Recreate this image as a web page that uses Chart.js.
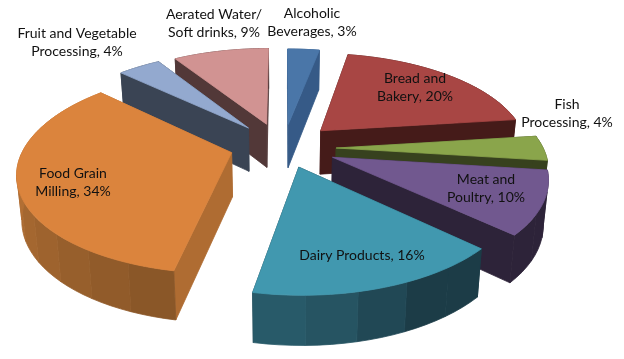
<!DOCTYPE html>
<html>
<head>
<meta charset="utf-8">
<title>Food processing share</title>
<script src="https://cdn.jsdelivr.net/npm/chart.js@4/dist/chart.umd.min.js"></script>
<style>
    html, body { margin: 0; padding: 0; background: #fff; }
    canvas { display: block; }
</style>
</head>
<body>
<canvas id="pieChart" width="624" height="359"></canvas>
<script>
// Chart data, clockwise from 12 o'clock
const categories = ['Alcoholic Beverages', 'Bread and Bakery', 'Fish Processing', 'Meat and Poultry',
    'Dairy Products', 'Food Grain Milling', 'Fruit and Vegetable Processing', 'Aerated Water/ Soft drinks'];
const shares = [3, 20, 4, 10, 16, 34, 4, 9];

// First line of each two-line label ('' = single line)
const labelFirstLines = ['Alcoholic', 'Bread and', 'Fish', 'Meat and', '', 'Food Grain', 'Fruit and Vegetable', 'Aerated Water/'];

// Styling
const topColors = ['#4a76a8', '#a84644', '#8aa54b', '#71588f', '#4198af', '#db843d', '#93a9cf', '#d19392'];
const cutColors = ['#365a87', '#451b19', '#37411e', '#2d2339', '#1c3c47', '#af6c32', '#3a4454', '#523838'];
const wallFrom = ['#365a87', '#451b19', '#37411e', '#2d2339', '#1c3c47', '#8a5728', '#3a4454', '#523838'];
const wallTo = ['#365a87', '#451b19', '#37411e', '#2d2339', '#285a69', '#bd7638', '#3a4454', '#523838'];
const wallHold = [0, 0, 0, 0, 0.2, 0, 0, 0];
const explodeOffsets = [36, 36, 36, 36, 36, 36, 36, 36];
const sliceNudges = [[0, -3], [4, -3], [6, 0], [6, 0], [0, -2], [-8, -2], [-7, -4], [-5, -4]];
const paintOrder = [0, 7, 6, 5, 1, 2, 3, 4];
const labelSpots = [[312, 22], [415, 87], [567, 113], [486, 188], [362, 255], [73, 182], [77, 42], [214, 23]];

// Projection of the pie plane onto the page
const view = { cx: 284, cy: 148, radius: 207, tilt: 96, distance: 5.5, depth: 44, baseShrink: 0.98 };

function project(u, v, nudge, down) {
    const s = view.distance / (view.distance - v);
    const x = u * view.radius * s * (down ? view.baseShrink : 1);
    return {
        x: view.cx + x + nudge[0],
        y: view.cy + v * view.tilt * s + nudge[1] + (down ? view.depth * (1 + (s - 1) * 0.5) : 0)
    };
}

function hexToRgb(hex) {
    return [1, 3, 5].map(i => parseInt(hex.substr(i, 2), 16));
}

function mixColor(a, b, t) {
    const ca = hexToRgb(a), cb = hexToRgb(b);
    return 'rgb(' + ca.map((c, i) => Math.round(c + (cb[i] - c) * t)).join(',') + ')';
}

function fillPoly(ctx, points, color) {
    ctx.beginPath();
    points.forEach((p, i) => i ? ctx.lineTo(p.x, p.y) : ctx.moveTo(p.x, p.y));
    ctx.closePath();
    ctx.fillStyle = color;
    ctx.strokeStyle = color;
    ctx.lineWidth = 0.8;
    ctx.lineJoin = 'round';
    ctx.fill();
    ctx.stroke();
}

function drawSlice(ctx, arc, i) {
    const mid = (arc.startAngle + arc.endAngle) / 2;
    const off = arc.options.offset / arc.outerRadius;
    const ox = Math.cos(mid) * off, oy = Math.sin(mid) * off;
    const nudge = sliceNudges[i];
    const rim = (a, down) => project(Math.cos(a) + ox, Math.sin(a) + oy, nudge, down);
    const tip = down => project(ox, oy, nudge, down);

    // Cut faces and outer wall, back ones first
    const faces = [];
    [arc.startAngle, arc.endAngle].forEach(a => {
        faces.push({ points: [tip(false), rim(a, false), rim(a, true), tip(true)], color: cutColors[i] });
    });
    const sweep = arc.endAngle - arc.startAngle;
    const bands = Math.max(1, Math.round(sweep / 0.2));
    const steps = 4;
    const wall = [];
    for (let b = 0; b < bands; b++) {
        const upper = [], lower = [];
        for (let k = 0; k <= steps; k++) {
            const a = arc.startAngle + sweep * (b + k / steps) / bands;
            upper.push(rim(a, false));
            lower.unshift(rim(a, true));
        }
        const t = Math.max(0, Math.min(1, (b / bands - wallHold[i]) / (0.7 - wallHold[i])));
        wall.push({ points: upper.concat(lower), color: mixColor(wallFrom[i], wallTo[i], t) });
    }
    const avgY = f => f.points.reduce((sum, p) => sum + p.y, 0) / f.points.length;
    faces.sort((a, b) => avgY(a) - avgY(b));
    if (Math.sin(mid) > 0) {
        faces.forEach(f => fillPoly(ctx, f.points, f.color));
        wall.forEach(f => fillPoly(ctx, f.points, f.color));
    } else {
        wall.forEach(f => fillPoly(ctx, f.points, f.color));
        faces.forEach(f => fillPoly(ctx, f.points, f.color));
    }

    // Top face
    const top = [tip(false)];
    const n = Math.ceil(sweep / 0.03);
    for (let k = 0; k <= n; k++) top.push(rim(arc.startAngle + sweep * k / n, false));
    fillPoly(ctx, top, topColors[i]);
}

// Draws the arcs the pie controller laid out as tilted extruded slices
const pie3dPlugin = {
    id: 'pie3d',
    beforeDatasetsDraw(chart) {
        const arcs = chart.getDatasetMeta(0).data;
        paintOrder.forEach(i => drawSlice(chart.ctx, arcs[i], i));
        return false;
    },
    afterDraw(chart) {
        const ctx = chart.ctx;
        ctx.save();
        ctx.font = '14px Lato';
        ctx.fillStyle = '#111';
        ctx.textAlign = 'center';
        ctx.textBaseline = 'middle';
        categories.forEach((name, i) => {
            const first = labelFirstLines[i];
            const spot = labelSpots[i];
            const last = (first ? name.slice(first.length).trim() : name) + ', ' + shares[i] + '%';
            if (first) {
                ctx.fillText(first, spot[0], spot[1] - 9);
                ctx.fillText(last, spot[0], spot[1] + 9);
            } else {
                ctx.fillText(last, spot[0], spot[1]);
            }
        });
        ctx.restore();
    }
};

new Chart(document.getElementById('pieChart'), {
    type: 'pie',
    data: {
        labels: categories,
        datasets: [{
            data: shares,
            backgroundColor: topColors,
            offset: explodeOffsets,
            borderWidth: 0
        }]
    },
    options: {
        responsive: false,
        animation: false,
        plugins: {
            legend: { display: false },
            tooltip: { enabled: false }
        }
    },
    plugins: [pie3dPlugin]
});
</script>
</body>
</html>
